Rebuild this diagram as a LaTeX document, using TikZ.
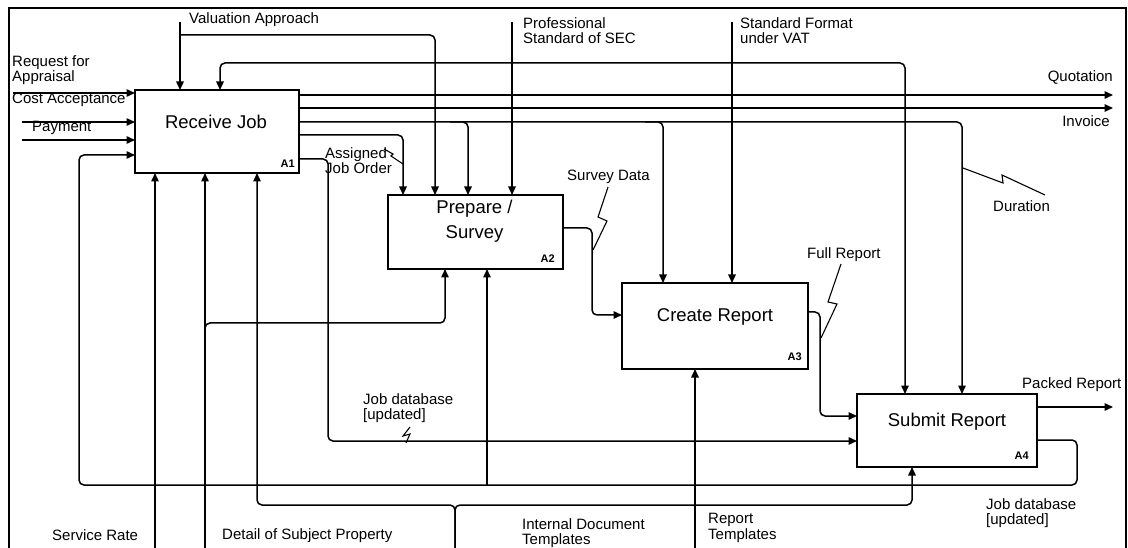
\documentclass[tikz,border=0pt]{standalone}
\usepackage{fontspec}
\setmainfont{Liberation Sans}
\usetikzlibrary{arrows.meta,calc}
\begin{document}
\begin{tikzpicture}[x=1pt,y=-1pt,
  box/.style={draw, line width=2.4pt, inner sep=0, outer sep=0},
  flow/.style={line width=1.5pt, rounded corners=5pt},
  arr/.style={-{Triangle[length=8.5pt,width=7.5pt]}},
  arrs/.style={{Triangle[length=8.5pt,width=7.5pt]}-{Triangle[length=8.5pt,width=7.5pt]}},
  squig/.style={line width=1.1pt},
  lab/.style={font=\fontsize{15}{15.5}\selectfont, inner sep=0, align=left},
  ttl/.style={font=\fontsize{18.5}{25}\selectfont, inner sep=0, align=center},
  num/.style={font=\bfseries\fontsize{11}{12}\selectfont, inner sep=0},
  framestyle/.style={line width=1.8pt}]
\useasboundingbox (0,0) rectangle (1128,548);

% frame
\draw[framestyle] (9,548) -- (9,8) -- (1126,8) -- (1126,548);

% boxes
\node[box, minimum width=164, minimum height=83] (A1) at (217,131.5) {};
\node[box, minimum width=175, minimum height=74] (A2) at (475.5,232) {};
\node[box, minimum width=186, minimum height=86] (A3) at (715,326) {};
\node[box, minimum width=180, minimum height=73] (A4) at (947,430.5) {};

\node[ttl] (t1) at ($(A1.north)+(-1,32)$) {Receive Job};
\node[ttl] (t2) at ($(A2.north)+(-1,26.5)$) {Prepare /\\Survey};
\node[ttl] (t3) at ($(A3.north)+(0,34)$) {Create Report};
\node[ttl] (t4) at ($(A4.north)+(0,28)$) {Submit Report};

\node[num, anchor=south east] (n1) at ($(A1.south east)+(-4,-5)$) {A1};
\node[num, anchor=south east] (n2) at ($(A2.south east)+(-8,-6)$) {A2};
\node[num, anchor=south east] (n3) at ($(A3.south east)+(-6,-8)$) {A3};
\node[num, anchor=south east] (n4) at ($(A4.south east)+(-8,-7)$) {A4};

% free ends
\coordinate (va) at (180,22);
\coordinate (ps) at (512,22);
\coordinate (sf) at (732,22);
\coordinate (rq) at (13,93);
\coordinate (ca) at (22,122);
\coordinate (pm) at (22,140);
\coordinate (quo) at (1113,95);
\coordinate (inv) at (1113,108);
\coordinate (pk) at (1113,407);
\coordinate (sr) at (155,548);
\coordinate (dsp) at (205,548);
\coordinate (idt) at (455,548);
\coordinate (rt) at (695,548);

% controls
\draw[flow,arr] (va) -- (A1.north -| va);
\draw[flow,arr] (180,35) -- (435,35) -- (A2.north -| 435,0);
\draw[flow,arr] (ps) -- (A2.north -| ps);
\draw[flow,arr] (sf) -- (A3.north -| sf);
\draw[flow,arrs] (A1.north -| 220,0) -- (220,63) -- (905,63) -- (A4.north -| 905,0);

% inputs to A1
\draw[flow,arr] (rq) -- (A1.west |- rq);
\draw[flow,arr] (ca) -- (A1.west |- ca);
\draw[flow,arr] (pm) -- (A1.west |- pm);

% outputs of A1
\draw[flow,arr] (A1.east |- quo) -- (quo);
\draw[flow,arr] (A1.east |- inv) -- (inv);
\draw[flow,arr] (A1.east |- 0,122) -- (962,122) -- (A4.north -| 962,0);
\draw[flow,arr] (450,122) -- (468,122) -- (A2.north -| 468,0);
\draw[flow,arr] (645,122) -- (663,122) -- (A3.north -| 663,0);
\draw[flow,arr] (A1.east |- 0,135) -- (403,135) -- (A2.north -| 403,0);
\draw[flow,arr] (A1.east |- 0,159) -- (328,159) -- (328,441) -- (A4.west |- 0,441);

% A2 -> A3 -> A4
\draw[flow,arr] (A2.east |- 0,228) -- (592,228) -- (592,315) -- (A3.west |- 0,315);
\draw[flow,arr] (A3.east |- 0,312) -- (820,312) -- (820,416) -- (A4.west |- 0,416);
\draw[flow,arr] (A4.east |- pk) -- (pk);

% feedback job database
\draw[flow,arr] (A4.east |- 0,440) -- (1077,440) -- (1077,485) -- (79,485) -- (79,155) -- (A1.west |- 0,155);
\draw[flow,arr] (487,485) -- (A2.south -| 487,0);

% mechanisms
\draw[flow,arr] (sr) -- (A1.south -| sr);
\draw[flow,arr] (dsp) -- (A1.south -| dsp);
\draw[flow,arr] (205,338) -- (205,323) -- (445,323) -- (A2.south -| 445,0);
\draw[flow,arr] (idt) -- (455,505) -- (257,505) -- (A1.south -| 257,0);
\draw[flow,arr] (idt) -- (455,505) -- (912,505) -- (A4.south -| 912,0);
\draw[flow,arr] (rt) -- (A3.south -| rt);

% squiggles
\draw[squig] (608,187) -- (598,217) -- (607,221) -- (593,250);
\draw[squig] (841,264) -- (828,302) -- (837,304) -- (821,338);
\draw[squig] (963,168) -- (1003,183) -- (1002,175) -- (1045,195);
\draw[squig] (410,427) -- (403,436) -- (410,434) -- (406,443);
\draw[squig] (384,149) -- (393,154) -- (391,156) -- (403,164);

% labels
\node[lab, anchor=north west] (lrq) at (12,55) {Request for\\Appraisal};
\node[lab, anchor=west] (lca) at (12,100) {Cost Acceptance};
\node[lab, anchor=west] (lpm) at (32,128) {Payment};
\node[lab, anchor=west] (lva) at (189,20) {Valuation Approach};
\node[lab, anchor=north west] (lps) at (523,17) {Professional\\Standard of SEC};
\node[lab, anchor=north west] (lsf) at (740,17) {Standard Format\\under VAT};
\node[lab, anchor=east] (lquo) at (1113,77) {Quotation};
\node[lab, anchor=east] (linv) at (1110,121) {Invoice};
\node[lab, anchor=west] (ldur) at (993,206) {Duration};
\node[lab, anchor=west] (lfr) at (807,255) {Full Report};
\node[lab, anchor=west] (lpk) at (1022,385) {Packed Report};
\node[lab, anchor=west] (lsd) at (567,177) {Survey Data};
\node[lab, anchor=north west] (laj) at (325,147) {Assigned\\Job Order};
\node[lab, anchor=north west] (ljd1) at (363,393) {Job database\\{[updated]}};
\node[lab, anchor=north west] (ljd2) at (986,498) {Job database\\{[updated]}};
\node[lab, anchor=west] (lsr) at (52,535) {Service Rate};
\node[lab, anchor=west] (ldsp) at (222,536) {Detail of Subject Property};
\node[lab, anchor=north west] (lidt) at (522,518) {Internal Document\\Templates};
\node[lab, anchor=north west] (lrt) at (708,513) {Report\\Templates};
\end{tikzpicture}
\end{document}
